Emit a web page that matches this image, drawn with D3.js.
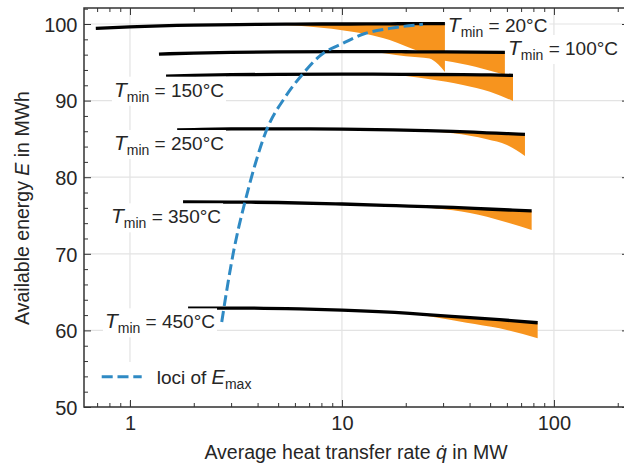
<!DOCTYPE html>
<html>
<head>
<meta charset="utf-8">
<script src="https://cdn.jsdelivr.net/npm/d3@7"></script>
<style>
  html, body { margin: 0; padding: 0; background: #fff; }
  svg { display: block; font-family: "Liberation Sans", Arial, sans-serif; }
  text { white-space: pre; }
</style>
</head>
<body>
<svg id="chart" width="624" height="466"></svg>
<script>
// ---------------- data ----------------
const tMinValues = [20, 100, 150, 250, 350, 450];

const qT20    = [0.69, 1, 2, 4, 6, 8, 10, 13, 16.8, 20, 23, 25.2, 28.5, 30.6];
const eT20    = [99.42, 99.62, 99.86, 99.95, 99.98, 100.0, 100.0, 100.02, 100.03, 100.04, 100.04, 100.05, 100.05, 100.05];
const eLowT20 = [99.42, 99.62, 99.86, 99.93, 99.8, 99.5, 99.2, 98.7, 97.9, 97.1, 96.4, 95.75, 94.7, 93.75];

const qT100    = [1.37, 2, 3, 5, 10, 13, 20, 26, 30.6, 42.6, 58.7];
const eT100    = [96.08, 96.2, 96.3, 96.37, 96.4, 96.4, 96.38, 96.36, 96.35, 96.33, 96.3];
const eLowT100 = [96.08, 96.2, 96.3, 96.37, 96.4, 96.38, 95.78, 95.5, 95.2, 94.43, 93.34];

const qT150    = [1.48, 2, 3, 5, 10, 14, 20, 26, 37.2, 49.9, 64.1];
const eT150    = [93.2, 93.3, 93.38, 93.43, 93.45, 93.45, 93.43, 93.41, 93.38, 93.35, 93.3];
const eLowT150 = [93.2, 93.3, 93.38, 93.43, 93.45, 93.44, 93.2, 92.78, 92.04, 91.16, 89.95];

const qT250    = [1.67, 3, 5, 10, 17.4, 25, 33.4, 48.3, 60, 73];
const eT250    = [86.16, 86.3, 86.32, 86.28, 86.18, 86.08, 85.98, 85.8, 85.7, 85.6];
const eLowT250 = [86.16, 86.3, 86.32, 86.28, 86.18, 86.0, 85.73, 84.95, 84.2, 82.77];

const qT350    = [1.78, 3, 5, 10, 18, 25, 33.4, 48.3, 62, 78.5];
const eT350    = [76.76, 76.75, 76.7, 76.5, 76.28, 76.15, 76.05, 75.85, 75.72, 75.6];
const eLowT350 = [76.76, 76.75, 76.7, 76.5, 76.28, 76.05, 75.7, 74.85, 73.98, 73.1];

const qT450    = [1.88, 3, 6.3, 10, 20.9, 27, 38.7, 55.4, 83.8];
const eT450    = [62.9, 62.92, 62.8, 62.66, 62.23, 62.0, 61.71, 61.4, 61.0];
const eLowT450 = [62.9, 62.92, 62.8, 62.66, 62.2, 61.75, 61.0, 60.27, 58.97];

const qLoci = [2.71, 2.87, 3.07, 3.27, 3.49, 3.89, 4.41, 5.38, 6.57, 7.87, 10.1, 12.83, 16.8, 24.1];
const eLoci = [61.1, 65.45, 70.07, 73.64, 76.8, 81.63, 86.16, 90.4, 93.56, 95.85, 97.48, 98.76, 99.43, 99.96];

// label anchors (data units)
const labelQ = [31.6, 60.7, 0.84, 0.84, 0.814, 0.762];
const labelE = [98.96, 95.95, 90.51, 83.55, 73.98, 60.27];

const xMajorTicks = [1, 10, 100];
const xMinorTicks = [0.7, 0.8, 0.9, 2, 3, 4, 5, 6, 7, 8, 9, 20, 30, 40, 50, 60, 70, 80, 90, 200];
const yMajorTicks = [50, 60, 70, 80, 90, 100];
const yMinorTicks = [52, 54, 56, 58, 62, 64, 66, 68, 72, 74, 76, 78, 82, 84, 86, 88, 92, 94, 96, 98, 102];

const xLabel = ["Average heat transfer rate ", "q\u0307", " in MW"];
const yLabel = ["Available energy ", "E", " in MWh"];
const legendLabel = ["loci of ", "E", "max"];

(function () {
// ---------------- build ----------------
const series = [
  {t: tMinValues[0], q: qT20,  e: eT20,  lo: eLowT20},
  {t: tMinValues[1], q: qT100, e: eT100, lo: eLowT100},
  {t: tMinValues[2], q: qT150, e: eT150, lo: eLowT150},
  {t: tMinValues[3], q: qT250, e: eT250, lo: eLowT250},
  {t: tMinValues[4], q: qT350, e: eT350, lo: eLowT350},
  {t: tMinValues[5], q: qT450, e: eT450, lo: eLowT450}
];

const svg = d3.select("#chart");
const pL = 84, pR = 629, pT = 8, pB = 407;
const x = d3.scaleLog().domain([0.607, 226]).range([pL, pR]);
const y = d3.scaleLinear().domain([50, 102.09]).range([pB, pT]);

const axisColor = "#333";
const textColor = "#262626";
const orange = "#f7941e";
const blue = "#2f8ac4";

// grid
const grid = svg.append("g");
grid.selectAll("line.gx").data(xMajorTicks).join("line")
  .attr("x1", d => x(d)).attr("x2", d => x(d)).attr("y1", pT).attr("y2", pB)
  .attr("stroke", "#e3e3e3").attr("stroke-width", 1.2);
grid.selectAll("line.gy").data(yMajorTicks).join("line")
  .attr("x1", pL).attr("x2", pR).attr("y1", d => y(d)).attr("y2", d => y(d))
  .attr("stroke", "#e3e3e3").attr("stroke-width", 1.2);

// fills
const area = d3.area()
  .x(d => x(d.q)).y0(d => y(d.lo)).y1(d => y(d.e))
  .curve(d3.curveMonotoneX);
const line = d3.line().x(d => x(d.q)).y(d => y(d.e)).curve(d3.curveMonotoneX);

const pts = s => s.q.map((q, i) => ({q: q, e: s.e[i], lo: s.lo[i]}));

svg.append("g").selectAll("path").data(series).join("path")
  .attr("d", s => area(pts(s)))
  .attr("fill", orange);

svg.append("g").selectAll("path").data(series).join("path")
  .attr("d", s => line(pts(s)))
  .attr("fill", "none").attr("stroke", "#000").attr("stroke-width", 3.3);

// loci
const lociPts = qLoci.map((q, i) => ({q: q, e: eLoci[i]}));
svg.append("path")
  .attr("d", line(lociPts))
  .attr("fill", "none").attr("stroke", blue).attr("stroke-width", 3)
  .attr("stroke-dasharray", "11,4.8");

// T_min labels
series.forEach((s, i) => {
  const g = svg.append("g");
  const t = g.append("text")
    .attr("x", x(labelQ[i])).attr("y", y(labelE[i]))
    .attr("fill", textColor).style("font-size", "19px");
  t.append("tspan").text("T").style("font-style", "italic").style("font-size", "21px");
  t.append("tspan").text("min").attr("dy", 5).style("font-size", "14px");
  t.append("tspan").text(" = " + s.t + "\u00B0C").attr("dy", -5);
  const bb = t.node().getBBox();
  g.insert("rect", "text")
    .attr("x", bb.x - 2).attr("y", bb.y - 1).attr("width", bb.width + 4).attr("height", bb.height + 2)
    .attr("fill", "#fff");
});

// legend
const lg = svg.append("g");
lg.append("rect").attr("x", 92).attr("y", 362).attr("width", 175).attr("height", 39).attr("fill", "#fff");
lg.append("line").attr("x1", 101.7).attr("x2", 141.7).attr("y1", 376.7).attr("y2", 376.7)
  .attr("stroke", blue).attr("stroke-width", 3).attr("stroke-dasharray", "11,4.8");
const lt = lg.append("text").attr("x", 156.7).attr("y", 384.3).attr("fill", textColor).style("font-size", "19px");
lt.append("tspan").text(legendLabel[0]);
lt.append("tspan").text(legendLabel[1]).style("font-style", "italic").style("font-size", "20px");
lt.append("tspan").text(legendLabel[2]).attr("dy", 5).style("font-size", "14px");

// axes (inward ticks on all four sides)
function styleAxis(g) {
  g.select(".domain").remove();
  g.selectAll(".tick line").attr("stroke", axisColor).attr("stroke-width", 1);
  g.selectAll(".tick text").attr("fill", textColor).style("font-size", "20px")
    .style("font-family", "'Liberation Sans', Arial, sans-serif");
}
const fmt = d3.format("d");
svg.append("g").attr("transform", `translate(0,${pB})`)
  .call(d3.axisBottom(x).tickValues(xMajorTicks).tickFormat(fmt).tickSize(-7).tickPadding(9)).call(styleAxis);
svg.append("g").attr("transform", `translate(0,${pB})`)
  .call(d3.axisBottom(x).tickValues(xMinorTicks).tickFormat("").tickSize(-4)).call(styleAxis);
svg.append("g").attr("transform", `translate(0,${pT})`)
  .call(d3.axisTop(x).tickValues(xMajorTicks).tickFormat("").tickSize(-7)).call(styleAxis);
svg.append("g").attr("transform", `translate(0,${pT})`)
  .call(d3.axisTop(x).tickValues(xMinorTicks).tickFormat("").tickSize(-4)).call(styleAxis);
const yl = svg.append("g").attr("transform", `translate(${pL},0)`)
  .call(d3.axisLeft(y).tickValues(yMajorTicks).tickFormat(fmt).tickSize(-7).tickPadding(6.5)).call(styleAxis);
yl.selectAll(".tick text").attr("dy", "0.36em");
svg.append("g").attr("transform", `translate(${pL},0)`)
  .call(d3.axisLeft(y).tickValues(yMinorTicks).tickFormat("").tickSize(-4)).call(styleAxis);
svg.append("g").attr("transform", `translate(${pR},0)`)
  .call(d3.axisRight(y).tickValues(yMajorTicks).tickFormat("").tickSize(-7)).call(styleAxis);
svg.append("g").attr("transform", `translate(${pR},0)`)
  .call(d3.axisRight(y).tickValues(yMinorTicks).tickFormat("").tickSize(-4)).call(styleAxis);

// spines
svg.append("rect").attr("x", pL).attr("y", pT).attr("width", pR - pL).attr("height", pB - pT)
  .attr("fill", "none").attr("stroke", axisColor).attr("stroke-width", 1.5);

// axis labels
const xt = svg.append("text").attr("x", 356).attr("y", 459).attr("text-anchor", "middle")
  .attr("fill", textColor).style("font-size", "19.5px");
xt.append("tspan").text(xLabel[0]);
xt.append("tspan").text(xLabel[1]).style("font-style", "italic");
xt.append("tspan").text(xLabel[2]);

const yt = svg.append("text").attr("transform", "translate(28.5,208) rotate(-90)").attr("text-anchor", "middle")
  .attr("fill", textColor).style("font-size", "19.5px");
yt.append("tspan").text(yLabel[0]);
yt.append("tspan").text(yLabel[1]).style("font-style", "italic");
yt.append("tspan").text(yLabel[2]);
})();
</script>
</body>
</html>
